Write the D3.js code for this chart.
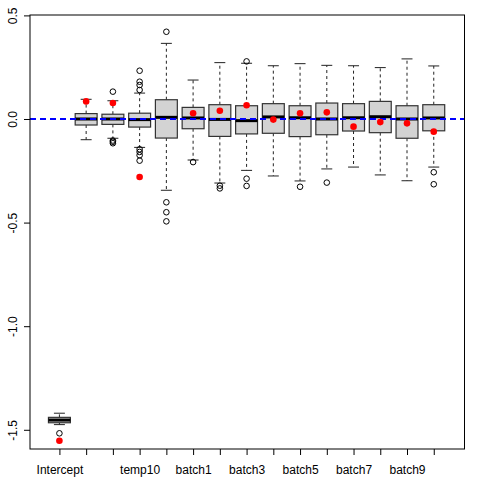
<!DOCTYPE html>
<html><head><meta charset="utf-8">
<script src="https://cdn.jsdelivr.net/npm/d3@7"></script>
<style>body{margin:0;background:#fff}svg{display:block}text{font-family:"Liberation Sans",Arial,sans-serif;font-size:12px;fill:#000}</style>
</head><body>
<script>
const categories = ["Intercept","temp2","temp5","temp10","temp15","batch1","batch2","batch3","batch4","batch5","batch6","batch7","batch8","batch9","batch10"];
const tickLabels = ["Intercept","","","temp10","","batch1","","batch3","","batch5","","batch7","","batch9",""];
const whiskerLow  = [-1.475,-0.100,-0.093,-0.137,-0.344,-0.198,-0.309,-0.248,-0.275,-0.299,-0.241,-0.232,-0.270,-0.298,-0.232];
const q1          = [-1.466,-0.029,-0.026,-0.039,-0.092,-0.047,-0.084,-0.072,-0.069,-0.085,-0.076,-0.058,-0.066,-0.093,-0.057];
const median      = [-1.453, 0.000, 0.000,-0.003, 0.008, 0.005,-0.002,-0.008, 0.010, 0.006, 0.000, 0.006, 0.011, 0.000, 0.005];
const q3          = [-1.440, 0.026, 0.023, 0.028, 0.093, 0.056, 0.069, 0.064, 0.074, 0.064, 0.077, 0.074, 0.085, 0.064, 0.069];
const whiskerHigh = [-1.420, 0.095, 0.088, 0.125, 0.365, 0.188, 0.272, 0.269, 0.257, 0.267, 0.259, 0.257, 0.248, 0.290, 0.256];
const outliers = [
  [-1.517],
  [],
  [0.132,-0.104,-0.110,-0.117],
  [0.233,0.180,0.164,0.140,-0.146,-0.159,-0.175,-0.201],
  [0.421,-0.402,-0.450,-0.494],
  [-0.208],
  [-0.322,-0.335],
  [0.278,-0.288,-0.323],
  [],
  [-0.327],
  [-0.307],
  [],
  [],
  [],
  [-0.257,-0.315]
];
const truth = [-1.553,0.085,0.077,-0.280,null,0.028,0.040,0.066,-0.003,0.028,0.032,-0.037,-0.015,-0.021,-0.061];
const yTicks = [0.5,0.0,-0.5,-1.0,-1.5];
const yTickLabels = ["0.5","0.0","-0.5","-1.0","-1.5"];
const refLine = 0;

const W = 480, H = 480;
const L = 30, R = 464.5, T = 15, B = 449;
const svg = d3.select("body").append("svg").attr("width",W).attr("height",H);
svg.append("rect").attr("width",W).attr("height",H).attr("fill","#fff");

const x = d3.scaleLinear().domain([-0.1, 16.15]).range([L, R]);
const y = d3.scaleLinear().domain([-1.5927, 0.5019]).range([B, T]);
const step = x(2) - x(1);
const bw = step * 0.82;

const data = categories.map((c,i)=>({c, i, lo:whiskerLow[i], q1:q1[i], med:median[i], q3:q3[i], hi:whiskerHigh[i], out:outliers[i], tr:truth[i]}));

const g = svg.append("g");
const bx = g.selectAll("g.box").data(data).join("g").attr("class","box");
// whiskers dashed
bx.append("line").attr("x1",d=>x(d.i+1)).attr("x2",d=>x(d.i+1)).attr("y1",d=>y(d.q3)).attr("y2",d=>y(d.hi))
  .attr("stroke","#222").attr("stroke-dasharray","3,3");
bx.append("line").attr("x1",d=>x(d.i+1)).attr("x2",d=>x(d.i+1)).attr("y1",d=>y(d.q1)).attr("y2",d=>y(d.lo))
  .attr("stroke","#222").attr("stroke-dasharray","3,3");
// caps
bx.append("line").attr("x1",d=>x(d.i+1)-bw/4).attr("x2",d=>x(d.i+1)+bw/4).attr("y1",d=>y(d.hi)).attr("y2",d=>y(d.hi)).attr("stroke","#222");
bx.append("line").attr("x1",d=>x(d.i+1)-bw/4).attr("x2",d=>x(d.i+1)+bw/4).attr("y1",d=>y(d.lo)).attr("y2",d=>y(d.lo)).attr("stroke","#222");
// box
bx.append("rect").attr("x",d=>x(d.i+1)-bw/2).attr("width",bw).attr("y",d=>y(d.q3)).attr("height",d=>y(d.q1)-y(d.q3))
  .attr("fill","#d3d3d3").attr("stroke","#333").attr("stroke-width",1.2);
// median
bx.append("line").attr("x1",d=>x(d.i+1)-bw/2).attr("x2",d=>x(d.i+1)+bw/2).attr("y1",d=>y(d.med)).attr("y2",d=>y(d.med))
  .attr("stroke","#000").attr("stroke-width",3);
// outliers
bx.selectAll("circle").data(d=>d.out.map(v=>({i:d.i,v}))).join("circle")
  .attr("cx",d=>x(d.i+1)).attr("cy",d=>y(d.v)).attr("r",2.8).attr("fill","none").attr("stroke","#000").attr("stroke-width",1);

// reference line
svg.append("line").attr("x1",L).attr("x2",R).attr("y1",y(refLine)).attr("y2",y(refLine))
  .attr("stroke","#0000ff").attr("stroke-width",2).attr("stroke-dasharray","6,4");

// red points
svg.selectAll("circle.tr").data(data.filter(d=>d.tr!==null)).join("circle").attr("class","tr")
  .attr("cx",d=>x(d.i+1)).attr("cy",d=>y(d.tr)).attr("r",3.3).attr("fill","#ff0000");

// frame
svg.append("rect").attr("x",L).attr("y",T).attr("width",R-L).attr("height",B-T).attr("fill","none").attr("stroke","#000").attr("stroke-width",1);

// y axis
const ya = svg.append("g").attr("transform",`translate(${L},0)`)
  .call(d3.axisLeft(y).tickValues(yTicks).tickSize(6).tickFormat((d,i)=>yTickLabels[i]));
ya.select(".domain").remove();
ya.selectAll("line").attr("stroke","#000");
ya.selectAll("text").attr("x",null).attr("dy",null).attr("text-anchor","middle")
  .attr("transform","translate(-12,0) rotate(-90)").attr("dy","-0.1em").attr("y",0)
  .style("font-size","12px").style("font-family","Liberation Sans, Arial, sans-serif").attr("fill","#000");

// x axis
const xa = svg.append("g").attr("transform",`translate(0,${B})`)
  .call(d3.axisBottom(x).tickValues(d3.range(1,categories.length+1)).tickSize(6).tickFormat((d,i)=>tickLabels[i]));
xa.select(".domain").remove();
xa.selectAll("line").attr("stroke","#000");
xa.selectAll("text").attr("y",25).attr("dy",null)
  .style("font-size","12px").style("font-family","Liberation Sans, Arial, sans-serif").attr("fill","#000");
</script>
</body></html>
